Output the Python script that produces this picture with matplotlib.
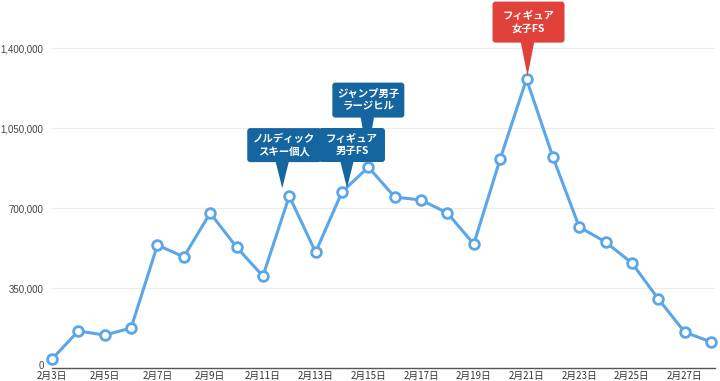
import matplotlib
matplotlib.use("Agg")
import matplotlib.pyplot as plt
from matplotlib.patches import FancyBboxPatch, Polygon
from matplotlib.transforms import IdentityTransform, ScaledTranslation

plt.rcParams['font.family'] = ['Noto Sans CJK JP', 'DejaVu Sans']

days = list(range(3, 29))
views = [39000, 162000, 144000, 175000, 538000, 486000, 678000, 529000,
         402000, 752000, 507000, 770000, 879000, 748000, 735000, 678000,
         542000, 914000, 1264000, 923000, 617000, 551000, 459000, 302000,
         157000, 114000]

tick_days = list(range(3, 29, 2))
tick_labels = ["2月%d日" % d for d in tick_days]
y_ticks = [0, 350000, 700000, 1050000, 1400000]
y_labels = ["0", "350,000", "700,000", "1,050,000", "1,400,000"]

# callouts: (day, text, color, box w, box h, tip offset, box centre offset from tip)
events = [
    (15, "ジャンプ男子\nラージヒル", "#1565a0", 72, 35, (-1, 12), (1, 55)),
    (12, "ノルディック\nスキー個人", "#1565a0", 74, 34, (-7, 8), (2, 43)),
    (14, "フィギュア\n男子FS", "#1565a0", 66, 34, (5, 4), (5, 43)),
    (21, "フィギュア\n女子FS", "#e0413a", 72, 41, (1, 3), (1, 54)),
]

blue = "#5ba6e8"

fig = plt.figure(figsize=(7.2, 3.81), dpi=100)
ax = fig.add_axes([52 / 720, 13 / 381, 663 / 720, 368 / 381])

ax.plot(days, views, color=blue, linewidth=2.2, marker="o", markersize=7,
        markerfacecolor="white", markeredgecolor=blue, markeredgewidth=2,
        zorder=3, clip_on=False)

ax.set_xlim(3, 28.15)
ax.set_ylim(0, 1610000)
ax.set_xticks(tick_days)
ax.set_xticklabels(tick_labels, fontsize=7, color="#333333")
ax.set_yticks(y_ticks)
ax.set_yticklabels(y_labels, fontsize=7, color="#444444")
ax.tick_params(axis="both", length=0, pad=2)
ax.tick_params(axis="y", pad=6)
for lab in ax.get_yticklabels():
    lab.set_fontfamily(['Liberation Sans', 'DejaVu Sans'])
# the zero label sits a little above the axis line
zero = ax.get_yticklabels()[0]
zero.set_transform(zero.get_transform() + ScaledTranslation(0, 3 / 100, fig.dpi_scale_trans))
ax.grid(axis="y", color="#ebebeb", linewidth=0.8)
ax.set_axisbelow(True)
for s in ["top", "right", "left"]:
    ax.spines[s].set_visible(False)
ax.spines["bottom"].set_color("#555555")
ax.spines["bottom"].set_linewidth(1)

fig.canvas.draw()
ident = IdentityTransform()
for day, text, color, w, h, tip_off, box_off in events:
    px, py = ax.transData.transform((day, views[days.index(day)]))
    tx, ty = px + tip_off[0], py + tip_off[1]
    cx, cy = tx + box_off[0], ty + box_off[1]
    tri = Polygon([(tx, ty), (tx - 7, cy - h / 2 + 2), (tx + 7, cy - h / 2 + 2)],
                  closed=True, facecolor=color, edgecolor="none",
                  transform=ident, zorder=5)
    box = FancyBboxPatch((cx - w / 2, cy - h / 2), w, h,
                         boxstyle="round,pad=0,rounding_size=3",
                         facecolor=color, edgecolor="none",
                         transform=ident, zorder=5)
    fig.patches.extend([tri, box])
    fig.text(cx, cy, text, transform=ident, ha="center", va="center",
             color="white", fontsize=7.5, fontweight="bold",
             linespacing=1.35, zorder=6)

fig.savefig("out.png", dpi=100)
